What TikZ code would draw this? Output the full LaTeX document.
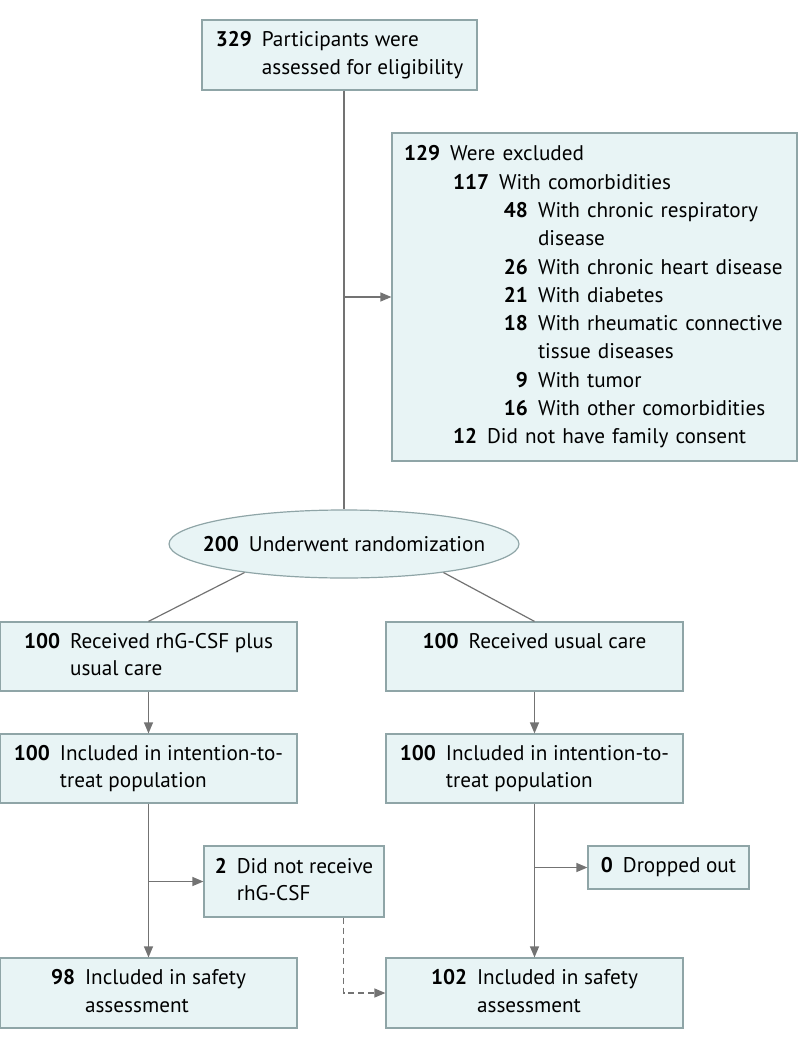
\documentclass[tikz,border=0pt]{standalone}
\usepackage{fontspec}
\setmainfont{PT Sans}
\usetikzlibrary{shapes.geometric,arrows.meta}

\definecolor{boxfill}{HTML}{E8F4F5}
\definecolor{boxline}{HTML}{8FA5A7}
\definecolor{flowline}{HTML}{737373}

\newlength\numgap \setlength\numgap{10pt}
% number in bold, then one or two lines of text
\newcommand{\cnt}[3]{\begin{tabular}{@{}r@{\hspace{\numgap}}l@{}}\textbf{#1} & #2\\ & #3\end{tabular}}
% lines of the exclusion box
\newcommand{\exclmid}[2]{\hspace*{49pt}\textbf{#1}\hspace{\numgap}#2}
\newcommand{\exclsub}[2]{\hspace*{99pt}\makebox[25pt][r]{\textbf{#1}}\hspace{\numgap}#2}
\newcommand{\exclcont}[1]{\hspace*{\dimexpr124pt+\numgap\relax}#1}

\begin{document}
\begin{tikzpicture}[x=1pt,y=-1pt,
  font=\fontsize{21.2}{27.5}\selectfont,
  box/.style={draw=boxline,fill=boxfill,line width=1.2pt,inner sep=0pt,
    minimum width=297pt,minimum height=69pt},
  flow/.style={draw=flowline,line width=1.2pt},
  arr/.style={flow,-{Triangle[length=11pt,width=9pt]}}]
  \useasboundingbox (0,0) rectangle (798,1054);

  \node [box,minimum width=275pt,minimum height=70pt] (screen) at (339.5,55)
    {\raisebox{-4pt}{\cnt{329}{Participants were}{assessed for eligibility}}};
  \node [box,minimum width=405pt,minimum height=328pt,text width=381pt,align=left,
    font=\fontsize{21.2}{28.3}\selectfont] (excl) at (594.5,297)
    {\noindent\textbf{129}\hspace{\numgap}Were excluded\\
     \exclmid{117}{With comorbidities}\\
     \exclsub{48}{With chronic respiratory}\\
     \exclcont{disease}\\
     \exclsub{26}{With chronic heart disease}\\
     \exclsub{21}{With diabetes}\\
     \exclsub{18}{With rheumatic connective}\\
     \exclcont{tissue diseases}\\
     \exclsub{9}{With tumor}\\
     \exclsub{16}{With other comorbidities}\\
     \exclmid{12}{Did not have family consent}};
  \node [box,ellipse,minimum width=350pt,minimum height=68pt] (rand) at (344,544)
    {\makebox[247pt]{\textbf{200}\hspace{\numgap}Underwent randomization}};

  \node [box] (armA) at (148.5,656.5) {\cnt{100}{Received rhG-CSF plus}{usual care}};
  \node [box] (armB) at (534.5,656.5) {\cnt{100}{Received usual care}{}};
  \node [box] (ittA) at (148.5,768.5) {\cnt{100}{Included in intention-to-}{treat population}};
  \node [box] (ittB) at (534.5,768.5) {\cnt{100}{Included in intention-to-}{treat population}};
  \node [box,minimum width=180pt,minimum height=71pt] (noDrug) at (294,881.5)
    {\cnt{2}{Did not receive}{rhG-CSF}};
  \node [box,minimum width=161pt,minimum height=43pt] (drop) at (668.5,867.5)
    {\textbf{0}\hspace{\numgap}Dropped out};
  \node [box,minimum height=70pt] (safeA) at (148.5,993) {\cnt{98}{Included in safety}{assessment}};
  \node [box,minimum height=70pt] (safeB) at (534.5,993) {\cnt{102}{Included in safety}{assessment}};

  % screening and randomization
  \draw [flow] (rand.north |- screen.south) -- (rand.north);
  \draw [arr] (rand.north |- excl.west) -- (excl.west);
  \draw [flow] (rand.196) -- (armA.north);
  \draw [flow] (rand.344) -- (armB.north);

  % the two arms
  \draw [arr] (armA) -- (ittA);
  \draw [arr] (armB) -- (ittB);
  \draw [arr] (ittA) -- (safeA);
  \draw [arr] (ittA.south |- noDrug.west) -- (noDrug.west);
  \draw [arr] (ittB) -- (safeB);
  \draw [arr] (ittB.south |- drop.west) -- (drop.west);
  \draw [arr,dash pattern=on 6pt off 4pt] ([xshift=-41pt]noDrug.south east) |- (safeB.west);
\end{tikzpicture}
\end{document}
